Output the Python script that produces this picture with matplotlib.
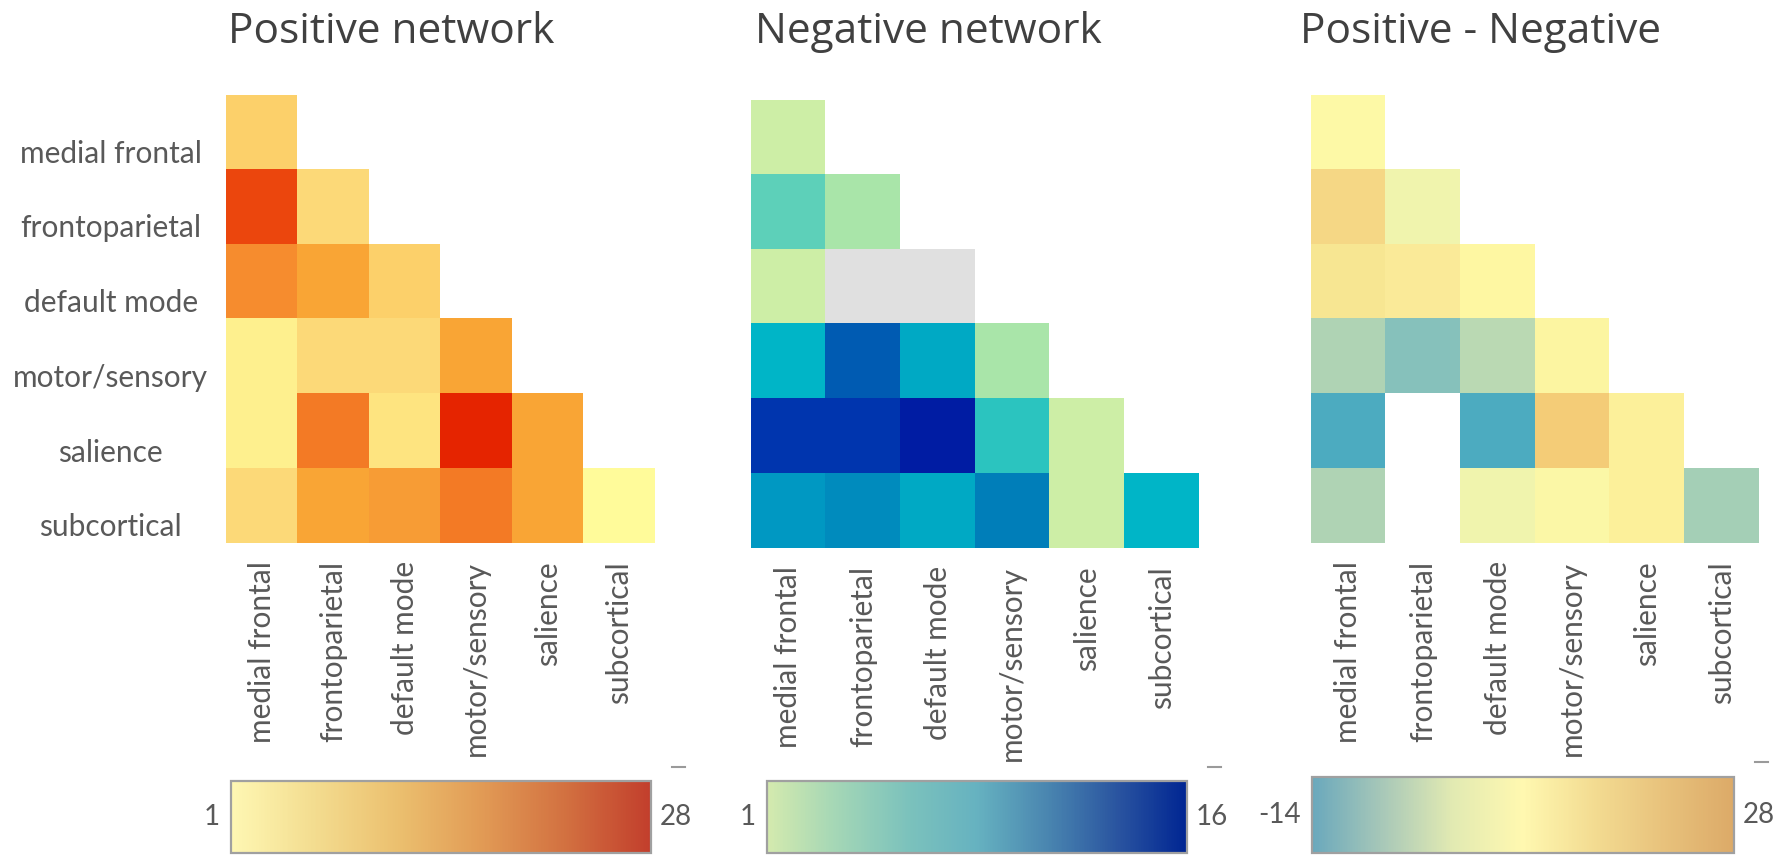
import numpy as np
import matplotlib
matplotlib.use("Agg")
import matplotlib.pyplot as plt
import matplotlib.transforms as mtransforms
from matplotlib.colors import LinearSegmentedColormap, Normalize
from matplotlib.cm import ScalarMappable

# network names (rows top->bottom, columns left->right)
networks = ["medial frontal", "frontoparietal", "default mode",
            "motor/sensory", "salience", "subcortical"]

# lower triangle (incl. diagonal) edge counts, one list per row
positive_rows = [
    [6],
    [22, 5],
    [13, 10, 6],
    [3, 5, 5, 10],
    [3, 15, 4, 28, 10],
    [5, 10, 11, 15, 10, 1],
]
negative_rows = [
    [1],
    [4, 2],
    [1, 0, 0],
    [7, 13, 8, 2],
    [15, 15, 16, 5, 1],
    [9, 10, 8, 11, 1, 7],
]

pos_range = (1, 28)
neg_range = (1, 16)
diff_range = (-14, 28)

# colour stops for the cells (value, colour)
pos_stops = [(1, "#fffb9a"), (3, "#fef08e"), (4, "#fee480"), (5, "#fcd978"),
             (6, "#fdd06a"), (10, "#f9a535"), (11, "#f79c35"), (13, "#f68c2e"),
             (15, "#f37a25"), (22, "#ec470e"), (28, "#e52400")]
neg_stops = [(1, "#cdeea6"), (2, "#a9e5a9"), (4, "#5dd0b9"), (5, "#2bc4bf"),
             (7, "#00b5c7"), (8, "#00a9c4"), (9, "#0098c2"), (10, "#008bbd"),
             (11, "#007eb9"), (13, "#005bb2"), (15, "#0035ae"), (16, "#001ca3")]
diff_stops = [(-14, "#3fa3c0"), (-12, "#4dacc1"), (-8, "#88c2bb"), (-6, "#a6d0b6"),
              (-4, "#b0d4b4"), (-3, "#bad9b4"), (3, "#f1f5ad"), (4, "#fcf8a6"),
              (5, "#fefaa6"), (6, "#fef7a2"), (8, "#fcf6a2"), (9, "#fdf19b"),
              (10, "#fbeb99"), (12, "#f8e793"), (18, "#f6d886"), (23, "#f5cd78"),
              (28, "#f2c46c")]

# legend bar gradients
pos_bar = ["#fef7b3", "#f3dc8f", "#ebbf6e", "#e19a55", "#d27040", "#c23e2c"]
neg_bar = ["#d4eaae", "#a3d6b6", "#7cc2bc", "#66b2c0", "#4a86b0", "#2a55a0", "#002592"]
diff_bar = ["#6aa8bc", "#a8c8b8", "#e2eab2", "#fff8b0", "#f3dc92", "#e8c27c", "#dcaa68"]


def to_matrix(rows):
    n = len(rows)
    m = np.full((n, n), np.nan)
    for i, r in enumerate(rows):
        m[i, :len(r)] = r
    return m


def stops_cmap(name, stops, vmin, vmax):
    cols = [((v - vmin) / (vmax - vmin), c) for v, c in stops]
    return LinearSegmentedColormap.from_list(name, cols)


pos = to_matrix(positive_rows)
neg = to_matrix(negative_rows)
diff = pos - neg
diff[diff == 0] = np.nan

cm_pos = stops_cmap("pos", pos_stops, *pos_range)
cm_neg = stops_cmap("neg", neg_stops, *neg_range)
cm_neg.set_under("#e0e0e0")
cm_diff = stops_cmap("diff", diff_stops, *diff_range)
for c in (cm_pos, cm_neg, cm_diff):
    c.set_bad((1, 1, 1, 0))

W, H = 1783, 855
fig = plt.figure(figsize=(W / 100, H / 100), dpi=100)
txt_col = "#595959"
label_font = "Lato"
title_font = "Open Sans"
lab_size = 21.5


def px_axes(x0, y0, x1, y1):
    return fig.add_axes([x0 / W, 1 - y1 / H, (x1 - x0) / W, (y1 - y0) / H])


panels = [
    ("Positive network", pos, cm_pos, pos_range, (226, 95, 655, 543), 228, pos_bar,
     (231, 781, 651, 853), "1", "28"),
    ("Negative network", neg, cm_neg, neg_range, (751, 100, 1199, 548), 755, neg_bar,
     (767, 781, 1187, 853), "1", "16"),
    ("Positive - Negative", diff, cm_diff, diff_range, (1311, 95, 1759, 543), 1300, diff_bar,
     (1312, 777, 1734, 853), "-14", "28"),
]

for k, (title, mat, cmap, rng, box, tx, bar_cols, cbox, lo_lab, hi_lab) in enumerate(panels):
    ax = px_axes(*box)
    ax.imshow(np.ma.masked_invalid(mat), cmap=cmap, norm=Normalize(*rng),
              aspect="auto", interpolation="nearest")
    for s in ax.spines.values():
        s.set_visible(False)
    ax.set_xticks(range(len(networks)))
    ax.set_xticklabels(networks, rotation=90, family=label_font, fontsize=lab_size,
                       color=txt_col)
    ax.tick_params(axis="x", length=0, pad=13)
    if k == 0:
        ax.set_yticks(range(len(networks)))
        ax.set_yticklabels(networks, family=label_font, fontsize=lab_size,
                           color=txt_col, ha="center")
        ax.tick_params(axis="y", length=0, pad=83)
        # row names sit a little below the row centres
        shift = mtransforms.ScaledTranslation(0, -0.19, fig.dpi_scale_trans)
        for lab in ax.get_yticklabels():
            lab.set_transform(lab.get_transform() + shift)
    else:
        ax.set_yticks([])

    fig.text(tx / W, 1 - 43 / H, title, family=title_font, fontsize=30.5,
             color="#404040", va="baseline", ha="left")

    # gradient legend under each matrix
    cax = px_axes(*cbox)
    bar_cmap = LinearSegmentedColormap.from_list("bar%d" % k, bar_cols)
    cb = fig.colorbar(ScalarMappable(Normalize(*rng), bar_cmap), cax=cax,
                      orientation="horizontal")
    cb.set_ticks([])
    cb.outline.set_edgecolor("#a0a0a0")
    cb.outline.set_linewidth(1.6)
    cax.annotate(lo_lab, (0, 0.5), xycoords="axes fraction", xytext=(-8, 0),
                 textcoords="offset points", ha="right", va="center",
                 family=label_font, fontsize=20, color=txt_col)
    cax.annotate(hi_lab, (1, 0.5), xycoords="axes fraction", xytext=(6, 0),
                 textcoords="offset points", ha="left", va="center",
                 family=label_font, fontsize=20, color=txt_col)
    cax.plot([1.05, 1.08], [1.2, 1.2], transform=cax.transAxes, clip_on=False,
             color="#9a9a9a", lw=1.5)

fig.savefig("out.png", dpi=100, facecolor="white")
